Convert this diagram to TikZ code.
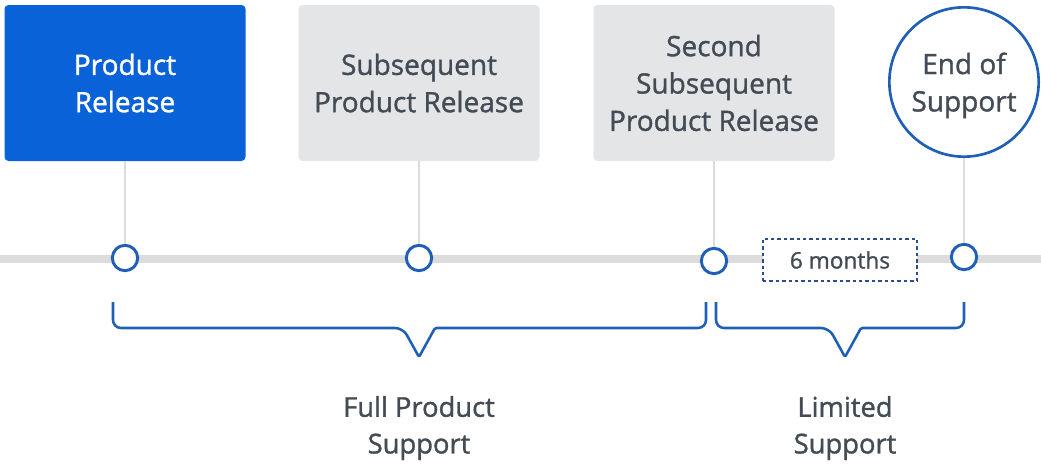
\documentclass[tikz,border=0pt]{standalone}
\usepackage{fontspec}
\setmainfont{Open Sans}[UprightFeatures={FakeBold=1.2}]
\definecolor{relblue}{HTML}{0A62D8}
\definecolor{lineblue}{HTML}{1F5FB8}
\definecolor{dotblue}{HTML}{2B4F8C}
\definecolor{boxgray}{HTML}{E4E5E7}
\definecolor{railgray}{HTML}{DCDCDC}
\definecolor{textgray}{HTML}{434B55}
\begin{document}
\begin{tikzpicture}[x=0.75pt,y=-0.75pt]
    \tikzstyle{release}=[rectangle, rounded corners=3pt, minimum width=180.75pt, minimum height=117pt, align=center, font=\fontsize{21}{28}\selectfont]
    \tikzstyle{tick}=[circle, draw=lineblue, line width=2.2pt, fill=white, minimum size=19pt, inner sep=0pt]
    \tikzstyle{stem}=[draw=railgray, line width=1.5pt]
    \tikzstyle{brace}=[draw=lineblue, line width=1.9pt, line join=round]
    \useasboundingbox (0,0) rectangle (1041,464);
    % timeline
    \coordinate (tl) at (0,259);
    \coordinate (tr) at (1041,259);
    \draw[railgray, line width=6pt] (tl) -- (tr);
    % releases
    \node[release, fill=relblue, text=white] (r1) at (125,83) {Product\\Release};
    \node[release, fill=boxgray, text=textgray] (r2) at (419,83) {Subsequent\\Product Release};
    \node[release, fill=boxgray, text=textgray] (r3) at (714,83) {Second\\Subsequent\\Product Release};
    \node[circle, draw=lineblue, line width=2pt, fill=white, minimum size=112pt, align=center, text depth=0pt, text=textgray, font=\fontsize{21}{28}\selectfont] (eos) at (964,82) {End of\\Support};
    % ticks on the timeline
    \node[tick] (m1) at (125,258){};
    \node[tick] (m2) at (419,258){};
    \node[tick] (m3) at (714,261){};
    \node[tick] (m4) at (964,257){};
    \draw[stem] (r1.south) -- (m1.north);
    \draw[stem] (r2.south) -- (m2.north);
    \draw[stem] (r3.south) -- (m3.north);
    \draw[stem] (eos.south) -- (m4.north);
    \node[draw=dotblue, line width=1.6pt, dash pattern=on 2.6pt off 2.2pt, fill=white, minimum width=115.5pt, minimum height=32pt, text=textgray, font=\fontsize{17}{20}\selectfont] (six) at (840,260) {6 months};
    % braces
    \draw[brace, rounded corners=6pt] (113,302) -- (113,328) -- (403,328) [rounded corners=1pt] -- (419,357) -- (435,328) [rounded corners=6pt] -- (706,328) -- (706,302);
    \draw[brace, rounded corners=6pt] (716,302) -- (716,328) -- (829,328) [rounded corners=1pt] -- (845,357) -- (861,328) [rounded corners=6pt] -- (964,328) -- (964,302);
    \node[align=center, text=textgray, font=\fontsize{20.5}{27.5}\selectfont] (full) at (419,428) {Full Product\\Support};
    \node[align=center, text=textgray, font=\fontsize{20.5}{27.5}\selectfont] (lim) at (845,428) {Limited\\Support};
\end{tikzpicture}
\end{document}
